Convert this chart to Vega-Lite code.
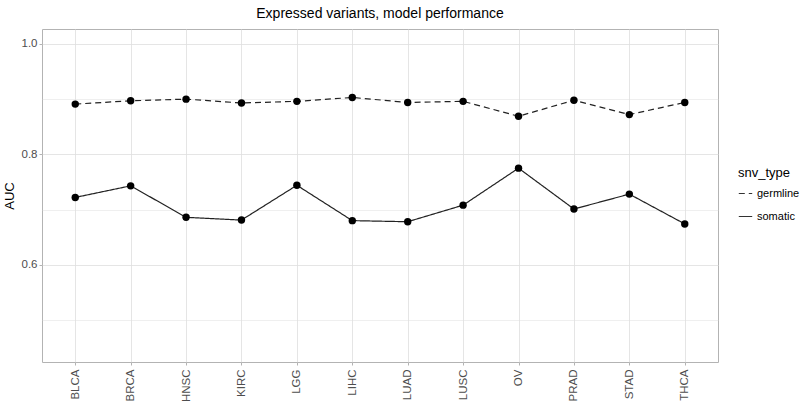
{
  "$schema": "https://vega.github.io/schema/vega-lite/v6.json",
  "autosize": {"type": "none"},
  "width": 676,
  "height": 333,
  "padding": {"left": 42, "top": 29, "right": 82, "bottom": 40},
  "background": "white",
  "title": {"text": "Expressed variants, model performance", "fontSize": 14, "font": "Liberation Sans", "fontWeight": "normal", "color": "#000000", "anchor": "middle", "offset": 8},
  "config": {
    "font": "Liberation Sans",
    "view": {"stroke": "#b3b3b3", "strokeWidth": 1},
    "axis": {"labelFont": "Liberation Sans", "titleFont": "Liberation Sans", "domain": false, "gridColor": "#dedede", "tickColor": "#b3b3b3", "tickSize": 3, "labelColor": "#4d4d4d", "labelFontSize": 11.5}
  },
  "data": {
    "values": [
      {"cancer": "BLCA", "snv_type": "germline", "auc": 0.891},
      {"cancer": "BRCA", "snv_type": "germline", "auc": 0.897},
      {"cancer": "HNSC", "snv_type": "germline", "auc": 0.900},
      {"cancer": "KIRC", "snv_type": "germline", "auc": 0.893},
      {"cancer": "LGG", "snv_type": "germline", "auc": 0.896},
      {"cancer": "LIHC", "snv_type": "germline", "auc": 0.903},
      {"cancer": "LUAD", "snv_type": "germline", "auc": 0.894},
      {"cancer": "LUSC", "snv_type": "germline", "auc": 0.896},
      {"cancer": "OV", "snv_type": "germline", "auc": 0.869},
      {"cancer": "PRAD", "snv_type": "germline", "auc": 0.898},
      {"cancer": "STAD", "snv_type": "germline", "auc": 0.872},
      {"cancer": "THCA", "snv_type": "germline", "auc": 0.894},
      {"cancer": "BLCA", "snv_type": "somatic", "auc": 0.722},
      {"cancer": "BRCA", "snv_type": "somatic", "auc": 0.743},
      {"cancer": "HNSC", "snv_type": "somatic", "auc": 0.686},
      {"cancer": "KIRC", "snv_type": "somatic", "auc": 0.681},
      {"cancer": "LGG", "snv_type": "somatic", "auc": 0.744},
      {"cancer": "LIHC", "snv_type": "somatic", "auc": 0.680},
      {"cancer": "LUAD", "snv_type": "somatic", "auc": 0.678},
      {"cancer": "LUSC", "snv_type": "somatic", "auc": 0.708},
      {"cancer": "OV", "snv_type": "somatic", "auc": 0.775},
      {"cancer": "PRAD", "snv_type": "somatic", "auc": 0.701},
      {"cancer": "STAD", "snv_type": "somatic", "auc": 0.728},
      {"cancer": "THCA", "snv_type": "somatic", "auc": 0.674}
    ]
  },
  "encoding": {
    "x": {
      "field": "cancer", "type": "nominal",
      "scale": {"type": "point", "padding": 0.6},
      "axis": {"title": null, "labelAngle": -90, "labelAlign": "right", "labelBaseline": "middle", "labelPadding": 4, "grid": true, "gridWidth": 0.8}
    },
    "y": {
      "field": "auc", "type": "quantitative",
      "scale": {"domain": [0.424, 1.027], "nice": false, "zero": false},
      "axis": {
        "title": "AUC", "titleFontSize": 13, "titleFontWeight": "normal", "titleColor": "#000000", "titlePadding": 5,
        "values": [0.5, 0.6, 0.7, 0.8, 0.9, 1.0],
        "labelExpr": "(datum.value == 0.6 || datum.value == 0.8 || datum.value == 1) ? format(datum.value, '.1f') : ''",
        "tickOpacity": {"condition": {"test": "datum.value == 0.6 || datum.value == 0.8 || datum.value == 1", "value": 1}, "value": 0},
        "gridWidth": {"condition": {"test": "datum.value == 0.6 || datum.value == 0.8 || datum.value == 1", "value": 0.8}, "value": 0.5},
        "labelPadding": 2
      }
    }
  },
  "layer": [
    {
      "mark": {"type": "line", "color": "#222222", "strokeWidth": 1.2},
      "encoding": {
        "strokeDash": {
          "field": "snv_type", "type": "nominal",
          "scale": {"domain": ["germline", "somatic"], "range": [[6, 4], [1, 0]]},
          "legend": {"title": "snv_type", "orient": "none", "legendX": 696, "legendY": 138, "titleFontSize": 13, "titleFontWeight": "normal", "titleColor": "#000000", "labelFontSize": 11, "labelColor": "#000000", "symbolType": "stroke", "symbolStrokeColor": "#333333", "symbolStrokeWidth": 1.2, "symbolSize": 180, "rowPadding": 10, "titlePadding": 6}
        }
      }
    },
    {
      "mark": {"type": "circle", "color": "#000000", "opacity": 1, "size": 55}
    }
  ]
}
